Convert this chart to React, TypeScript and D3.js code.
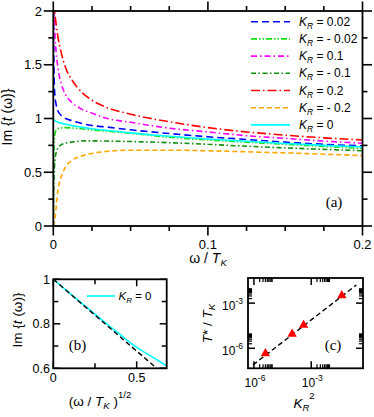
import React from 'react';
import * as d3 from 'd3';

// panel (a): Im t(w) vs w/T_K for several K_R
const omega = [0, 0.0001, 0.0003, 0.0006, 0.001, 0.002, 0.003, 0.005, 0.008, 0.012, 0.018, 0.025, 0.035, 0.05, 0.075, 0.1, 0.125, 0.15, 0.175, 0.2];
const imT_p002 = [null, 2.2, 1.65, 1.35, 1.22, 1.12, 1.07, 1.03, 1.0, 0.98, 0.955, 0.935, 0.92, 0.895, 0.86, 0.83, 0.805, 0.78, 0.76, 0.745];
const imT_m002 = [0, 0.3, 0.6, 0.78, 0.85, 0.895, 0.905, 0.912, 0.915, 0.912, 0.905, 0.893, 0.88, 0.862, 0.825, 0.8, 0.78, 0.76, 0.74, 0.722];
const imT_p01 = [null, null, 2.3, 2.0, 1.8, 1.6, 1.47, 1.33, 1.22, 1.15, 1.09, 1.05, 1.0, 0.965, 0.91, 0.875, 0.84, 0.815, 0.79, 0.77];
const imT_m01 = [0, 0.15, 0.35, 0.5, 0.6, 0.69, 0.725, 0.755, 0.772, 0.782, 0.79, 0.792, 0.79, 0.786, 0.775, 0.76, 0.742, 0.727, 0.713, 0.7];
const imT_p02 = [null, null, null, 2.1, 2.0, 1.86, 1.76, 1.62, 1.47, 1.36, 1.25, 1.17, 1.1, 1.04, 0.97, 0.915, 0.875, 0.845, 0.82, 0.8];
const imT_m02 = [0, 0, 0.01, 0.03, 0.06, 0.2, 0.33, 0.45, 0.55, 0.61, 0.65, 0.675, 0.695, 0.705, 0.705, 0.7, 0.69, 0.68, 0.668, 0.655];
const imT_0 = [1.0, 0.995, 0.99, 0.985, 0.98, 0.972, 0.966, 0.957, 0.946, 0.934, 0.92, 0.905, 0.888, 0.866, 0.835, 0.81, 0.788, 0.768, 0.75, 0.735];
const legendLabels = ['0.02', '- 0.02', '0.1', '- 0.1', '0.2', '- 0.2', '0'];

// panel (b): Im t vs sqrt(w/T_K)
const sqrtOmega = [0, 0.1, 0.2, 0.3, 0.4, 0.5, 0.6, 0.68];
const imT_b = [1.0, 0.937, 0.874, 0.812, 0.752, 0.694, 0.648, 0.61];
const fitB_x = [0, 0.62];
const fitB_y = [1.0, 0.6];

// panel (c): T*/T_K vs K_R^2
const k2 = [4e-6, 1e-4, 4e-4, 0.04];
const tStar = [4.5e-7, 9e-6, 3.5e-5, 3.2e-3];
const fitC_x = [8.9e-7, 0.23];
const fitC_y = [7.8e-8, 0.016];

const SANS = '"Liberation Sans", Arial, sans-serif';
const SERIF = '"Liberation Serif", "Times New Roman", serif';

const series = [
  { vals: imT_p002, color: '#0000ff', dash: '7,4' },
  { vals: imT_m002, color: '#11e011', dash: '6,2,1.5,2,1.5,2' },
  { vals: imT_p01, color: '#ff00ff', dash: '6,3,1.5,3' },
  { vals: imT_m01, color: '#109010', dash: '5,2.5,1.5,2.5' },
  { vals: imT_p02, color: '#ff0000', dash: '9,3,1.5,3' },
  { vals: imT_m02, color: '#ffa500', dash: '5,3' },
  { vals: imT_0, color: '#00ffff', dash: null },
];

const xA = d3.scaleLinear().domain([0, 0.2]).range([53.3, 362.5]);
const yA = d3.scaleLinear().domain([0, 2]).range([226, 11]);
const xB = d3.scaleLinear().domain([0, 0.68]).range([53.3, 166.7]);
const yB = d3.scaleLinear().domain([0.6, 1]).range([368.3, 279.3]);
const xC = d3.scaleLog().domain([Math.pow(10, -6.31), Math.pow(10, -0.29)]).range([248, 363]);
const yC = d3.scaleLog().domain([Math.pow(10, -7.33), Math.pow(10, -1.33)]).range([368.3, 278]);

function Frame({ x, y, sw }) {
  const [x0, x1] = x.range();
  const [y0, y1] = y.range();
  return <rect x={x0} y={y1} width={x1 - x0} height={y0 - y1} fill="none" stroke="#000" strokeWidth={sw} />;
}

// ticks on all four sides; dir = +1 outward, -1 inward
function Ticks({ x, y, xv, yv, len, dir, sw }) {
  const [x0, x1] = x.range();
  const [y0, y1] = y.range();
  const out = [];
  xv.forEach((v, i) => {
    const px = x(v);
    out.push(<line key={'xb' + i} x1={px} x2={px} y1={y0} y2={y0 + dir * len} />);
    out.push(<line key={'xt' + i} x1={px} x2={px} y1={y1} y2={y1 - dir * len} />);
  });
  yv.forEach((v, i) => {
    const py = y(v);
    out.push(<line key={'yl' + i} y1={py} y2={py} x1={x0} x2={x0 - dir * len} />);
    out.push(<line key={'yr' + i} y1={py} y2={py} x1={x1} x2={x1 + dir * len} />);
  });
  return <g stroke="#000" strokeWidth={sw}>{out}</g>;
}

function ImLabel({ x, y, size }) {
  return (
    <text transform={`translate(${x},${y}) rotate(-90)`} textAnchor="middle" fontFamily={SANS} fontSize={size}>
      {'Im {'}<tspan fontStyle="italic">t</tspan>{' (ω)}'}
    </text>
  );
}

function KR({ x, y, rest, size = 12 }) {
  return (
    <text x={x} y={y} fontFamily={SANS} fontSize={size}>
      <tspan fontStyle="italic">K</tspan>
      <tspan fontStyle="italic" fontSize={size * 0.7} dy={3}>R</tspan>
      <tspan dy={-3}>{rest}</tspan>
    </text>
  );
}

function Pow10({ x, y, exp, anchor }) {
  return (
    <text x={x} y={y} fontFamily={SANS} fontSize={12} textAnchor={anchor}>
      10<tspan fontSize={8.5} dy={-6}>{exp}</tspan>
    </text>
  );
}

export default function App() {
  const lineA = (vals) =>
    d3.line().defined((d) => d[1] != null).x((d) => xA(d[0])).y((d) => yA(d[1])).curve(d3.curveMonotoneX)(
      omega.map((w, i) => [w, vals[i]])
    );

  const majA_x = [0, 0.1, 0.2];
  const minA_x = d3.range(0, 0.2001, 0.025).filter((v) => !majA_x.some((m) => Math.abs(m - v) < 1e-9));
  const majA_y = [0, 0.5, 1, 1.5, 2];
  const minA_y = [0.25, 0.75, 1.25, 1.75];

  const minC = [];
  [-6, -3].forEach((e) => d3.range(2, 10).forEach((k) => minC.push(k * Math.pow(10, e))));

  const bLine = d3.line().x((d) => xB(d[0])).y((d) => yB(d[1])).curve(d3.curveMonotoneX);
  const cLine = d3.line().x((d) => xC(d[0])).y((d) => yC(d[1]));
  const tri = d3.symbol().type(d3.symbolTriangle).size(38)();

  const legendY0 = 21.7;
  const legendDy = 17.2;

  return (
    <svg width={374} height={417} style={{ position: 'absolute', left: 0, top: 0, background: '#fff' }}>
      <defs>
        <clipPath id="clipA">
          <rect x={53.3} y={11} width={309.2} height={215} />
        </clipPath>
        <clipPath id="clipB">
          <rect x={53.3} y={279.3} width={113.4} height={89} />
        </clipPath>
        <clipPath id="clipC">
          <rect x={248} y={278} width={115} height={90.3} />
        </clipPath>
      </defs>

      {/* ---------- panel (a) ---------- */}
      <g clipPath="url(#clipA)">
        {series.map((s, i) => (
          <path key={i} d={lineA(s.vals)} fill="none" stroke={s.color} strokeWidth={1.6} strokeDasharray={s.dash || undefined} />
        ))}
      </g>
      <Ticks x={xA} y={yA} xv={majA_x} yv={majA_y} len={9.5} dir={1} sw={1.6} />
      <Ticks x={xA} y={yA} xv={minA_x} yv={minA_y} len={5} dir={1} sw={1.6} />
      <Frame x={xA} y={yA} sw={1.8} />
      {majA_y.map((v) => (
        <text key={v} x={42} y={yA(v) + 4.6} textAnchor="end" fontFamily={SANS} fontSize={13}>{v}</text>
      ))}
      {majA_x.map((v) => (
        <text key={v} x={xA(v)} y={249} textAnchor="middle" fontFamily={SANS} fontSize={13}>{v}</text>
      ))}
      <text x={208} y={263} textAnchor="middle" fontFamily={SANS} fontSize={14}>
        ω / <tspan fontStyle="italic">T</tspan>
        <tspan fontStyle="italic" fontSize={9.5} dy={3}>K</tspan>
      </text>
      <ImLabel x={12} y={117} size={14} />
      <text x={334} y={207} textAnchor="middle" fontFamily={SERIF} fontSize={15}>(a)</text>

      {series.map((s, i) => {
        const ly = legendY0 + i * legendDy;
        return (
          <g key={i}>
            <line x1={251} x2={290} y1={ly} y2={ly} stroke={s.color} strokeWidth={1.6} strokeDasharray={s.dash || undefined} />
            <KR x={299} y={ly + 4} rest={` = ${legendLabels[i]}`} />
          </g>
        );
      })}

      {/* ---------- panel (b) ---------- */}
      <g clipPath="url(#clipB)">
        <path d={bLine(sqrtOmega.map((s, i) => [s, imT_b[i]]))} fill="none" stroke="#00ffff" strokeWidth={1.6} />
        <path
          d={d3.line()(fitB_x.map((s, i) => [xB(s), yB(fitB_y[i])]))}
          fill="none"
          stroke="#000"
          strokeWidth={1.4}
          strokeDasharray="5,3"
        />
      </g>
      <Ticks x={xB} y={yB} xv={[0, 0.5]} yv={[0.6, 0.8, 1]} len={7} dir={-1} sw={1.5} />
      <Ticks x={xB} y={yB} xv={[0.25]} yv={[0.7, 0.9]} len={5} dir={-1} sw={1.5} />
      <Frame x={xB} y={yB} sw={1.8} />
      {[1, 0.8, 0.6].map((v) => (
        <text key={v} x={50} y={yB(v) + 4.4} textAnchor="end" fontFamily={SANS} fontSize={12.5}>{v}</text>
      ))}
      {[0, 0.5].map((v) => (
        <text key={v} x={xB(v)} y={382} textAnchor="middle" fontFamily={SANS} fontSize={12.5}>{v}</text>
      ))}
      <text x={100} y={406} textAnchor="middle" fontFamily={SANS} fontSize={13.5}>
        (ω / <tspan fontStyle="italic">T</tspan>
        <tspan fontStyle="italic" fontSize={9.5} dy={3}>K</tspan>
        <tspan dy={-3}> )</tspan>
        <tspan fontSize={9.5} dy={-8}>1/2</tspan>
      </text>
      <ImLabel x={22} y={320} size={13.5} />
      <text x={77.5} y={350} textAnchor="middle" fontFamily={SERIF} fontSize={15}>(b)</text>
      <line x1={87} x2={115} y1={296} y2={296} stroke="#00ffff" strokeWidth={1.6} />
      <KR x={118.5} y={300} rest=" = 0" size={11.5} />

      {/* ---------- panel (c) ---------- */}
      <g clipPath="url(#clipC)">
        <path d={cLine(fitC_x.map((k, i) => [k, fitC_y[i]]))} fill="none" stroke="#000" strokeWidth={1.4} strokeDasharray="5,3" />
        {k2.map((k, i) => (
          <path key={i} d={tri} transform={`translate(${xC(k)},${yC(tStar[i])})`} fill="#ff0000" />
        ))}
      </g>
      <Ticks x={xC} y={yC} xv={[1e-6, 1e-3]} yv={[1e-6, 1e-3]} len={7} dir={-1} sw={1.5} />
      <Ticks x={xC} y={yC} xv={minC} yv={minC} len={4} dir={-1} sw={1.2} />
      <Frame x={xC} y={yC} sw={1.8} />
      {[1e-3, 1e-6].map((v, i) => (
        <Pow10 key={i} x={243} y={yC(v) + 7} exp={i === 0 ? '-3' : '-6'} anchor="end" />
      ))}
      {[1e-6, 1e-3].map((v, i) => (
        <Pow10 key={i} x={xC(v) + 1} y={387} exp={i === 0 ? '-6' : '-3'} anchor="middle" />
      ))}
      <text transform="translate(212,323.5) rotate(-90)" textAnchor="middle" fontFamily={SANS} fontSize={13.5}>
        <tspan fontStyle="italic">T</tspan>* / <tspan fontStyle="italic">T</tspan>
        <tspan fontStyle="italic" fontSize={9.5} dy={3}>K</tspan>
      </text>
      <text x={304} y={408} textAnchor="middle" fontFamily={SANS} fontSize={13.5}>
        <tspan fontStyle="italic">K</tspan>
        <tspan fontStyle="italic" fontSize={9.5} dy={3}>R</tspan>
        <tspan fontSize={9.5} dy={-12}>2</tspan>
      </text>
      <text x={333} y={350} textAnchor="middle" fontFamily={SERIF} fontSize={15}>(c)</text>
    </svg>
  );
}
